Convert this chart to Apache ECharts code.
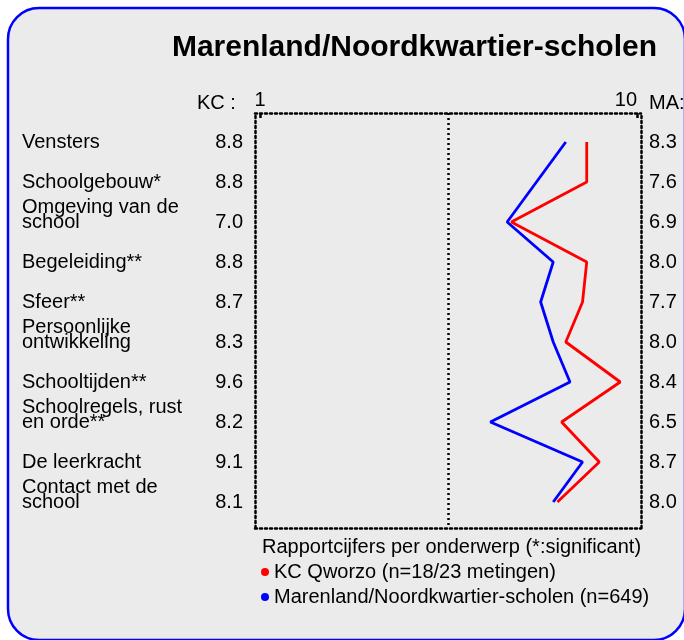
<!DOCTYPE html>
<html>
<head>
<meta charset="UTF-8">
<style>
	body { margin: 0; background: #fff; }
	#main { width: 684px; height: 640px; }
</style>
</head>
<body>
	<div id="main"></div>
</body>
<script src="https://cdn.jsdelivr.net/npm/echarts@6.0.0/dist/echarts.min.js"></script>
<script type="text/javascript">
// onderwerpen (van boven naar beneden)
var categories = ['Vensters', 'Schoolgebouw*', 'Omgeving van de\nschool', 'Begeleiding**', 'Sfeer**',
	'Persoonlijke\nontwikkeling', 'Schooltijden**', 'Schoolregels, rust\nen orde**', 'De leerkracht',
	'Contact met de\nschool'];
// rapportcijfers
var kcValues = [8.8, 8.8, 7.0, 8.8, 8.7, 8.3, 9.6, 8.2, 9.1, 8.1];
var maValues = [8.3, 7.6, 6.9, 8.0, 7.7, 8.0, 8.4, 6.5, 8.7, 8.0];
var scaleTicks = [1, 10];

var kcName = 'KC Qworzo (n=18/23 metingen)';
var maName = 'Marenland/Noordkwartier-scholen (n=649)';

var font = "'Liberation Sans', Arial, sans-serif";
var dotted = { color: '#000', width: 2.5, type: [2, 3] };

// label links: naam + KC-cijfer op de laatste regel
function leftLabel(value, index) {
	var lines = categories[index].split('\n');
	var out = [];
	for (var j = 0; j < lines.length; j++) {
		var v = (j === lines.length - 1) ? kcValues[index].toFixed(1) : ' ';
		out.push('{n|' + lines[j] + '}{v|' + v + '}');
	}
	// lege regels zodat de laatste regel op de lijn staat
	for (var k = 1; k < lines.length; k++) out.push('{n| }{v| }');
	return out.join('\n');
}

var myChart = echarts.init(document.getElementById('main'));

var option = {
	animation: false,
	textStyle: { fontFamily: font },
	graphic: [
		{ type: 'rect', z: -100, shape: { x: 8, y: 8, width: 677, height: 632, r: 31 },
			style: { fill: '#ebebeb', stroke: '#0000ff', lineWidth: 2.5 } },
		{ type: 'text', x: 657, y: 48, style: { text: 'Marenland/Noordkwartier-scholen', fill: '#000',
			font: 'bold 30px ' + font, textAlign: 'right', textVerticalAlign: 'middle' } },
		{ type: 'text', x: 197, y: 103, style: { text: 'KC :', fill: '#000', font: '20px ' + font,
			textVerticalAlign: 'middle' } },
		{ type: 'text', x: 649, y: 103, style: { text: 'MA:', fill: '#000', font: '20px ' + font,
			textVerticalAlign: 'middle' } },
		{ type: 'text', x: 262, y: 547, style: { text: 'Rapportcijfers per onderwerp (*:significant)',
			fill: '#000', font: '20px ' + font, textVerticalAlign: 'middle' } }
	],
	legend: {
		data: [kcName, maName],
		orient: 'vertical',
		left: 261,
		top: 562,
		padding: 0,
		itemGap: 5,
		itemWidth: 8,
		itemHeight: 8,
		icon: 'circle',
		textStyle: { fontSize: 20, color: '#000', fontFamily: font }
	},
	grid: [
		{ left: 255, top: 113, width: 386, height: 415 },
		{ left: 260, top: 142, width: 377, height: 360 }
	],
	xAxis: [
		{ gridIndex: 0, type: 'value', min: 0, max: 1, position: 'top',
			axisLine: { onZero: false, lineStyle: dotted }, axisTick: { show: false }, axisLabel: { show: false },
			splitLine: { show: false } },
		{ gridIndex: 0, type: 'value', min: 0, max: 1, interval: 0.5, position: 'bottom',
			axisLine: { onZero: false, lineStyle: dotted }, axisTick: { show: false }, axisLabel: { show: false },
			splitLine: { show: true, showMinLine: false, showMaxLine: false, lineStyle: dotted } },
		{ gridIndex: 1, type: 'value', min: 1, max: 10, position: 'top', offset: 29,
			axisLine: { show: false },
			axisTick: { show: true, inside: true, length: 5, customValues: scaleTicks,
				lineStyle: { color: '#000', width: 2.5 } },
			axisLabel: { show: true, customValues: scaleTicks, margin: 3, fontSize: 20, color: '#000',
				alignMaxLabel: 'right' },
			splitLine: { show: false } }
	],
	yAxis: [
		{ gridIndex: 0, type: 'value', min: 0, max: 1, position: 'left',
			axisLine: { show: true, onZero: false, lineStyle: dotted }, axisTick: { show: false },
			axisLabel: { show: false }, splitLine: { show: false } },
		{ gridIndex: 0, type: 'value', min: 0, max: 1, position: 'right',
			axisLine: { show: true, onZero: false, lineStyle: dotted }, axisTick: { show: false },
			axisLabel: { show: false }, splitLine: { show: false } },
		{ gridIndex: 1, type: 'category', data: categories, inverse: true, boundaryGap: false,
			position: 'left', axisLine: { show: false }, axisTick: { show: false },
			axisLabel: {
				interval: 0, margin: 17, color: '#000', fontSize: 20,
				formatter: leftLabel,
				rich: {
					n: { width: 181, align: 'left', fontSize: 20, lineHeight: 15, color: '#000', fontFamily: font },
					v: { width: 40, align: 'right', fontSize: 20, lineHeight: 15, color: '#000', fontFamily: font }
				}
			} },
		{ gridIndex: 1, type: 'category', data: categories, inverse: true, boundaryGap: false,
			position: 'right', axisLine: { show: false }, axisTick: { show: false },
			axisLabel: {
				interval: 0, margin: 12, color: '#000', fontSize: 20,
				formatter: function (value, index) { return maValues[index].toFixed(1); }
			} }
	],
	series: [
		{ name: maName, type: 'line', xAxisIndex: 2, yAxisIndex: 2, symbol: 'none',
			itemStyle: { color: '#0000ff' }, lineStyle: { color: '#0000ff', width: 2.8 },
			data: maValues.map(function (v, i) { return [v, i]; }) },
		{ name: kcName, type: 'line', xAxisIndex: 2, yAxisIndex: 2, symbol: 'none',
			itemStyle: { color: '#ff0000' }, lineStyle: { color: '#ff0000', width: 2.8 },
			data: kcValues.map(function (v, i) { return [v, i]; }) }
	]
};

myChart.setOption(option);
</script>
</html>
